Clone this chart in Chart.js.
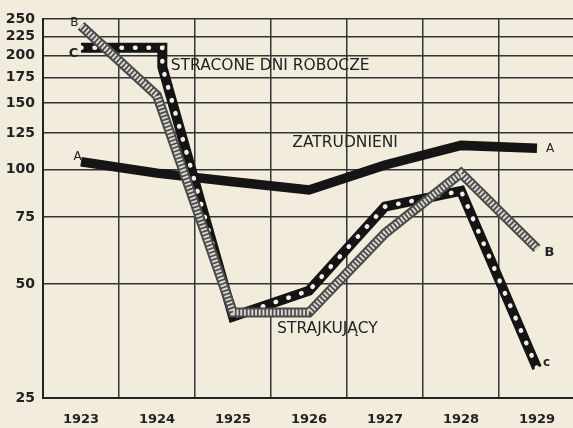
<!DOCTYPE html>
<html>
<head>
<meta charset="utf-8">
<script src="https://cdn.jsdelivr.net/npm/chart.js@4/dist/chart.umd.min.js"></script>
<style>
  html, body { margin: 0; padding: 0; overflow: hidden; background: #f2ecdc; }
  canvas { display: block; background: #f2ecdc; }
</style>
</head>
<body>
<canvas id="c" width="589" height="428" style="width:589px;height:428px"></canvas>
<script>
// ---- data ----
const years = [1923, 1924, 1925, 1926, 1927, 1928, 1929];
// A – ZATRUDNIENI (employed)
const zatrudnieni = [105, 98, 93, 88.5, 103, 116, 114];
// B – STRAJKUJĄCY (strikers)
const strajkujacy = [240, 157, 42, 42, 68, 98, 62];
// C – STRACONE DNI ROBOCZE (lost working days); drawn with a small step after 1924
const straconeYears = [1923, 1924.07, 1924.07, 1925, 1926, 1927, 1928, 1929];
const stracone = [210, 210, 187, 41, 48, 80, 88, 30];
// axis ticks
const yTicks = [25, 50, 75, 100, 125, 150, 175, 200, 225, 250];
const xBoundaries = years.map(y => y - 0.5).concat([years[years.length - 1] + 0.5]);

// text labels on the chart (data coordinates)
const chartTexts = [
  { text: 'STRACONE DNI ROBOCZE', x: 1924.18, y: 188, size: 15.5, weight: 'normal' },
  { text: 'ZATRUDNIENI', x: 1925.78, y: 118, size: 15.5, weight: 'normal' },
  { text: 'STRAJKUJĄCY', x: 1925.58, y: 38, size: 15.5, weight: 'normal' },
  { text: 'A', x: 1922.90, y: 108, size: 12, weight: 'normal' },
  { text: 'A', x: 1929.12, y: 113.5, size: 12, weight: 'normal' },
  { text: 'B', x: 1922.86, y: 244, size: 12, weight: 'normal' },
  { text: 'B', x: 1929.10, y: 60.5, size: 13, weight: 'bold' },
  { text: 'C', x: 1922.84, y: 203, size: 13, weight: 'bold' },
  { text: 'c', x: 1929.08, y: 31, size: 12, weight: 'bold' }
];

const xy = (xs, ys) => xs.map((x, i) => ({ x: x, y: ys[i] }));

const textPlugin = {
  id: 'chartTexts',
  afterDatasetsDraw(chart) {
    const ctx = chart.ctx;
    const sx = chart.scales.x, sy = chart.scales.y;
    ctx.save();
    ctx.fillStyle = '#222';
    ctx.textBaseline = 'middle';
    ctx.textAlign = 'left';
    chartTexts.forEach(t => {
      ctx.font = t.weight + ' ' + t.size + 'px "DejaVu Sans"';
      ctx.fillText(t.text, sx.getPixelForValue(t.x), sy.getPixelForValue(t.y));
    });
    ctx.restore();
  }
};

const common = { fill: false, tension: 0, pointRadius: 0, borderJoinStyle: 'miter' };

new Chart(document.getElementById('c'), {
  type: 'line',
  data: {
    datasets: [
      Object.assign({ label: 'B', data: xy(years, strajkujacy), borderColor: '#d9d6cf', borderWidth: 6, borderDash: [2, 1.7], borderCapStyle: 'butt', order: 1 }, common),
      Object.assign({ label: 'B base', data: xy(years, strajkujacy), borderColor: '#4a4a4a', borderWidth: 10, order: 2 }, common),
      Object.assign({ label: 'C dots', data: xy(straconeYears, stracone), borderColor: '#f4f1ea', borderWidth: 4.5, borderDash: [0.5, 13], borderCapStyle: 'round', order: 3 }, common),
      Object.assign({ label: 'C', data: xy(straconeYears, stracone), borderColor: '#141414', borderWidth: 10, order: 4 }, common),
      Object.assign({ label: 'A', data: xy(years, zatrudnieni), borderColor: '#151515', borderWidth: 9.5, order: 5 }, common)
    ]
  },
  options: {
    responsive: false,
    devicePixelRatio: 1,
    animation: false,
    layout: { padding: { top: 19, right: 0, bottom: 0, left: 0 } },
    plugins: { legend: { display: false }, tooltip: { enabled: false } },
    scales: {
      x: {
        type: 'linear',
        min: xBoundaries[0],
        max: xBoundaries[xBoundaries.length - 1],
        afterBuildTicks(scale) {
          scale.ticks = xBoundaries.concat(years).sort((a, b) => a - b).map(v => ({ value: v }));
        },
        afterFit(scale) { scale.height = 30; },
        grid: {
          drawTicks: false,
          lineWidth: 1.5,
          color: ctx => (ctx.tick && Number.isInteger(ctx.tick.value)) ? 'rgba(0,0,0,0)' : '#333'
        },
        border: { color: '#222', width: 2 },
        ticks: {
          autoSkip: false,
          maxRotation: 0,
          padding: 14,
          color: '#222',
          font: { family: '"DejaVu Sans"', size: 13, weight: 'bold' },
          callback: v => Number.isInteger(v) ? String(v) : ''
        }
      },
      y: {
        type: 'logarithmic',
        min: 25,
        max: 250,
        afterBuildTicks(scale) {
          scale.ticks = yTicks.map(v => ({ value: v }));
        },
        afterFit(scale) { scale.width = 43; },
        grid: { drawTicks: false, color: '#333', lineWidth: 1.5 },
        border: { color: '#222', width: 2 },
        ticks: {
          padding: 8,
          color: '#222',
          font: { family: '"DejaVu Sans"', size: 14, weight: 'bold' },
          callback: v => String(v)
        }
      }
    }
  },
  plugins: [textPlugin]
});
</script>
</body>
</html>
